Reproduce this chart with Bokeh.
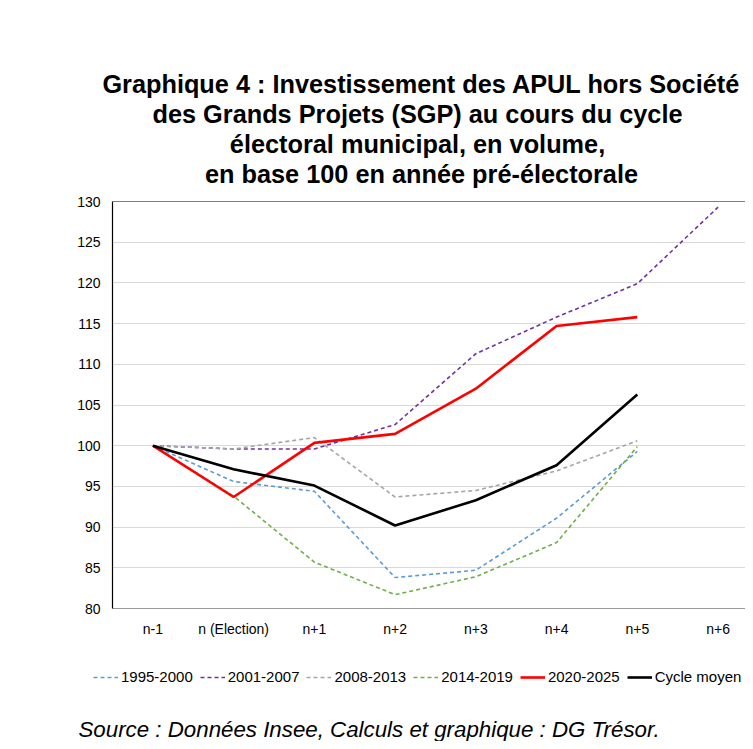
from bokeh.plotting import figure
from bokeh.models import (Range1d, FixedTicker, Legend, LegendItem, Span, Label)
from bokeh.layouts import column
from bokeh.embed import file_html
from bokeh.resources import INLINE

# ---------------- data ----------------
categories = ["n-1", "n (Election)", "n+1", "n+2", "n+3", "n+4", "n+5", "n+6"]
s_1995_2000 = [100, 95.6, 94.4, 83.8, 84.7, 91.1, 99.3]
s_2001_2007 = [100, 99.6, 99.6, 102.6, 111.3, 115.8, 119.9, 129.3]
s_2008_2013 = [100, 99.6, 101.0, 93.7, 94.5, 96.9, 100.6]
s_2014_2019 = [100, 93.8, 85.7, 81.7, 83.9, 88.1, 99.9]
s_2020_2025 = [100, 93.7, 100.35, 101.45, 107.0, 114.7, 115.8]
s_cycle_moyen = [100, 97.1, 95.1, 90.2, 93.3, 97.6, 106.3]

series_names = ["1995-2000", "2001-2007", "2008-2013", "2014-2019", "2020-2025", "Cycle moyen"]
series_values = [s_1995_2000, s_2001_2007, s_2008_2013, s_2014_2019, s_2020_2025, s_cycle_moyen]
series_colors = ["#5B9BD5", "#7030A0", "#A5A5A5", "#70AD47", "#FF0000", "#000000"]
series_dashed = [True, True, True, True, False, False]

y_ticks = [80, 85, 90, 95, 100, 105, 110, 115, 120, 125, 130]

title_lines = [
    "Graphique 4 : Investissement des APUL hors Société",
    "des Grands Projets (SGP) au cours du cycle",
    "électoral municipal, en volume,",
    "en base 100 en année pré-électorale",
]
source_text = "Source : Données Insee, Calculs et graphique : DG Trésor."

FONT = "Liberation Sans"
W = 745


def no_align(f):
    if "frame_align" in f.properties():
        f.frame_align = False
    return f


def blank(height):
    f = figure(width=W, height=height, output_backend="svg", toolbar_location=None,
               x_range=Range1d(0, 1), y_range=Range1d(0, 1),
               x_axis_type=None, y_axis_type=None, min_border=0,
               min_border_left=0, min_border_right=0, min_border_top=0,
               min_border_bottom=0)
    f.outline_line_color = None
    f.background_fill_color = "white"
    f.border_fill_color = "white"
    return no_align(f)


# ---------------- title block ----------------
p0 = blank(190)
title_cx = [421, 417, 417, 421]
title_base = [107, 77, 46.5, 16.5]
for t, cx, by in zip(title_lines, title_cx, title_base):
    p0.add_layout(Label(x=cx, y=by, x_units="screen", y_units="screen", text=t,
                        text_align="center", text_baseline="alphabetic",
                        text_font=FONT, text_font_style="bold", text_font_size="25.3px",
                        text_color="black"))

# ---------------- chart ----------------
p = figure(width=W, height=458, output_backend="svg", toolbar_location=None,
           x_range=Range1d(-0.5, 7.34), y_range=Range1d(80, 130),
           min_border_left=112, min_border_right=0, min_border_top=11,
           min_border_bottom=40)
no_align(p)
p.outline_line_color = None
p.background_fill_color = "white"
p.border_fill_color = "white"

p.xaxis.ticker = FixedTicker(ticks=list(range(len(categories))))
p.xaxis.major_label_overrides = {i: c for i, c in enumerate(categories)}
p.xaxis.major_tick_out = 0
p.xaxis.major_tick_in = 0
p.xaxis.minor_tick_out = 0
p.xaxis.minor_tick_in = 0
p.xaxis.major_label_standoff = 12
p.xaxis.axis_line_color = "#9A9A9A"
p.xaxis.axis_line_width = 1.2
p.xaxis.major_label_text_font = FONT
p.xaxis.major_label_text_font_size = "14px"
p.xaxis.major_label_text_color = "black"

p.yaxis.ticker = FixedTicker(ticks=y_ticks)
p.yaxis.major_tick_out = 0
p.yaxis.major_tick_in = 0
p.yaxis.minor_tick_out = 0
p.yaxis.minor_tick_in = 0
p.yaxis.major_label_standoff = 12
p.yaxis.axis_line_color = "black"
p.yaxis.axis_line_width = 1.2
p.yaxis.major_label_text_font = FONT
p.yaxis.major_label_text_font_size = "14px"
p.yaxis.major_label_text_color = "black"

p.xgrid.grid_line_color = None
p.ygrid.grid_line_color = "#D9D9D9"
p.ygrid.grid_line_width = 1

p.add_layout(Span(location=130, dimension="width", line_color="black", line_width=1.2))


def style(col, dashed):
    if dashed:
        return dict(line_color=col, line_width=1.6, line_dash="4 3")
    return dict(line_color=col, line_width=2.6)


for vals, col, dashed in zip(series_values, series_colors, series_dashed):
    p.line(list(range(len(vals))), vals, **style(col, dashed))

# ---------------- legend + source block ----------------
p2 = blank(93)
items = []
for name, vals, col, dashed in zip(series_names, series_values, series_colors, series_dashed):
    # same series, outside this block's 0..1 range: only its legend key shows
    r = p2.line(list(range(len(vals))), vals, **style(col, dashed))
    items.append(LegendItem(label=name, renderers=[r]))

legend = Legend(items=items, location=(93, 56), orientation="horizontal",
                glyph_width=25, glyph_height=16, label_height=16,
                label_standoff=3, spacing=7, padding=0, margin=0,
                border_line_color=None, background_fill_alpha=0,
                label_text_font=FONT, label_text_font_size="15px",
                label_text_color="black")
p2.add_layout(legend, "center")

p2.add_layout(Label(x=78, y=12, x_units="screen", y_units="screen", text=source_text,
                    text_align="left", text_baseline="alphabetic",
                    text_font=FONT, text_font_style="italic", text_font_size="22.3px",
                    text_color="black"))

layout = column(p0, p, p2, spacing=0)
open("out.html", "w").write(file_html(layout, INLINE))
